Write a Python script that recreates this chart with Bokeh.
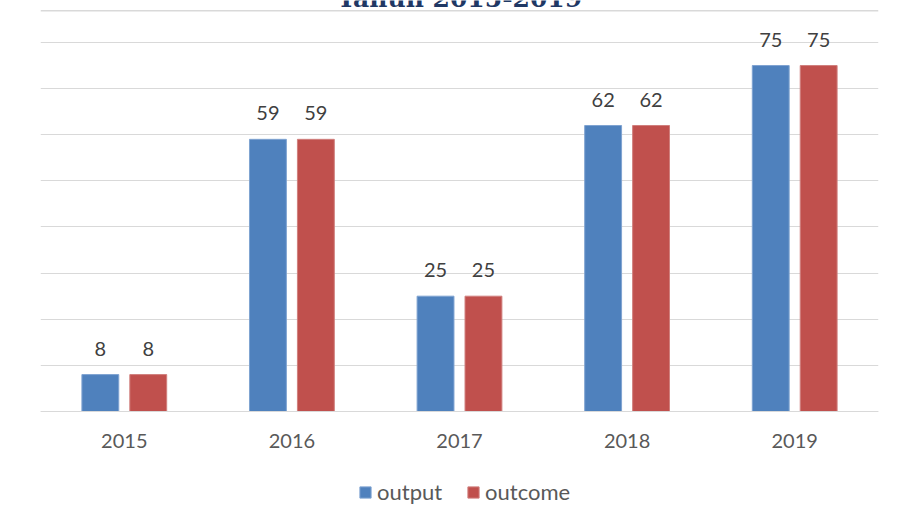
from bokeh.plotting import figure
from bokeh.models import (ColumnDataSource, FactorRange, Range1d, LabelSet, Label,
                          Legend, LegendItem, SingleIntervalTicker, CategoricalAxis, Span)
from bokeh.core.properties import value
from bokeh.transform import dodge
from bokeh.embed import file_html
from bokeh.resources import INLINE

years = ["2015", "2016", "2017", "2018", "2019"]
output = [8, 59, 25, 62, 75]
outcome = [8, 59, 25, 62, 75]
series_names = ["output", "outcome"]
title_text = "Tahun 2015-2019"

BLUE = "#4f81bd"
RED = "#c0504d"
FONT = "Lato"

src = ColumnDataSource(dict(
    years=years,
    output=output,
    outcome=outcome,
    output_lbl=[str(v) for v in output],
    outcome_lbl=[str(v) for v in outcome],
))

p = figure(x_range=FactorRange(*years), y_range=Range1d(-25.15, 89.1),
           width=897, height=527, output_backend="svg", toolbar_location=None,
           x_axis_location=None, y_axis_location=None,
           min_border_left=40, min_border_right=19, min_border_top=0,
           min_border_bottom=0)

r1 = p.vbar(x=dodge("years", -0.143, range=p.x_range), top="output", width=0.22,
            source=src, fill_color=BLUE, line_color="#7fa3d1", line_width=1)
r2 = p.vbar(x=dodge("years", 0.143, range=p.x_range), top="outcome", width=0.22,
            source=src, fill_color=RED, line_color="#d07f7d", line_width=1)

for col, lbl, off in [("output", "output_lbl", -0.143), ("outcome", "outcome_lbl", 0.143)]:
    ls = LabelSet(x=dodge("years", off, range=p.x_range), y=col, text=lbl, source=src,
                  text_align="center", text_baseline="alphabetic", y_offset=19,
                  text_font=value(FONT), text_font_size=value("20px"),
                  text_color="#404040")
    p.add_layout(ls)

p.xgrid.visible = False
p.ygrid.ticker = SingleIntervalTicker(interval=10)
p.ygrid.bounds = (0, 80)
p.ygrid.grid_line_color = "#d9d9d9"
p.ygrid.grid_line_width = 1
p.outline_line_color = None

# top edge of the chart box, title (cut off at the top like the reference)
p.add_layout(Span(location=86.9, dimension="width", line_color="#d9d9d9", line_width=1.5))
p.add_layout(Label(x=2.5, y=89.5, text=title_text, text_align="center",
                   text_baseline="alphabetic", text_font="DejaVu Serif",
                   text_font_style="bold", text_font_size="25px", text_color="#1f3864"))

xaxis = CategoricalAxis(fixed_location=0)
xaxis.axis_line_color = "#d9d9d9"
xaxis.axis_line_width = 1
xaxis.major_tick_line_color = None
xaxis.minor_tick_line_color = None
xaxis.major_label_standoff = 17
xaxis.major_label_text_font = FONT
xaxis.major_label_text_font_size = "20px"
xaxis.major_label_text_color = "#595959"
p.add_layout(xaxis, "below")

legend = Legend(items=[LegendItem(label=series_names[0], renderers=[r1]),
                       LegendItem(label=series_names[1], renderers=[r2])],
                orientation="horizontal", location=(318, 22),
                glyph_width=14, glyph_height=14, label_standoff=5, spacing=24,
                label_text_font=FONT, label_text_font_size="22px",
                label_text_color="#595959", border_line_color=None,
                background_fill_alpha=0, padding=4, margin=0)
p.add_layout(legend)

open("out.html", "w").write(file_html(p, INLINE))
